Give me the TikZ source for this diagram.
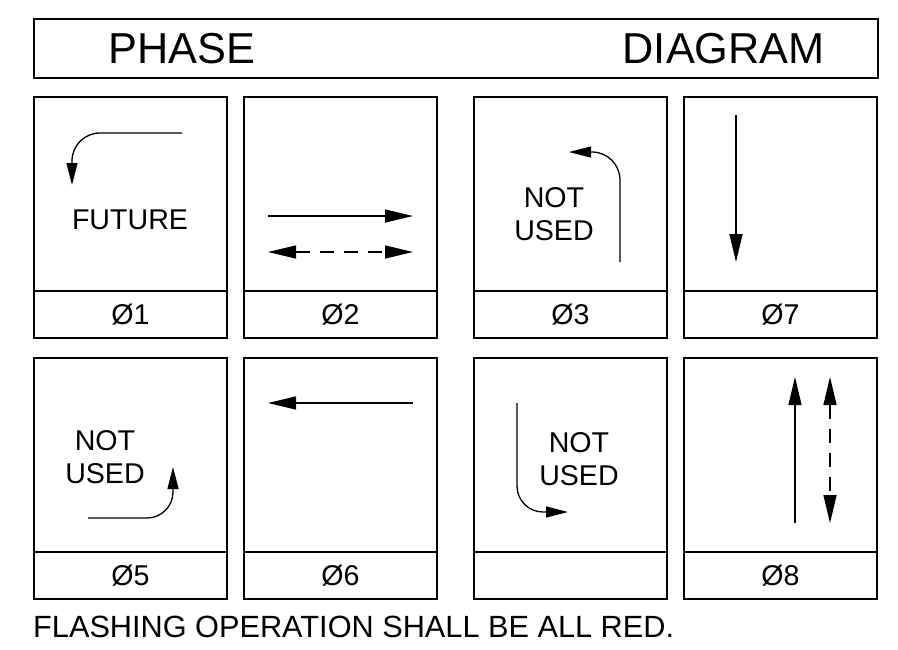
\documentclass[tikz,border=0pt]{standalone}
\usepackage{fontspec}
\setmainfont{Liberation Sans}
\usetikzlibrary{positioning, arrows.meta}

\begin{document}
\begin{tikzpicture}[x=1pt, y=-1pt,
  panel/.style={draw, line width=1.8pt, minimum width=193pt, minimum height=194pt, outer sep=0pt, inner sep=0pt},
  strip/.style={draw, line width=1.8pt, minimum width=193pt, minimum height=47pt, outer sep=0pt, inner sep=0pt, font=\fontsize{28.6}{29}\selectfont},
  note/.style={align=center, inner sep=0pt, font=\fontsize{28.6}{33}\selectfont},
  flow/.style={line width=1.3pt, -{Triangle[length=28pt, width=13pt]}},
  turn/.style={line width=1.3pt, -{Triangle[length=22pt, width=11pt]}},
  both/.style={line width=1.3pt, dash pattern=on 14pt off 10pt, {Triangle[length=28pt, width=13pt]}-{Triangle[length=28pt, width=13pt]}},
  ]
  \useasboundingbox (0,0) rectangle (898,649);

  % heading
  \node[draw, line width=1.8pt, minimum width=844pt, minimum height=59pt, outer sep=0pt] (title) at (456,48.5) {};
  \node[anchor=base west, inner sep=0pt, font=\fontsize{43.3}{44}\selectfont] (phase) at (108,63) {PHASE};
  \node[anchor=base east, inner sep=0pt, font=\fontsize{43.3}{44}\selectfont] (diagram) at (825,63) {DIAGRAM};

  % phase boxes
  \foreach \n/\x/\y/\l in {1/130.5/194/Ø1, 2/340.5/194/Ø2, 3/570.5/194/Ø3, 7/780.5/194/Ø7,
                           5/130.5/455/Ø5, 6/340.5/455/Ø6, 4/570.5/455/{}, 8/780.5/455/Ø8} {
    \node[panel] (ph\n) at (\x,\y) {};
    \node[strip, below=0pt of ph\n] (lb\n) {\l};
  }

  % phase 1
  \draw[turn, rounded corners=28pt] (182,133) -- (72,133) -- (72,185);
  \node[note] (future) at (130,219.5) {FUTURE};

  % phase 2
  \draw[flow] (268,216) -- (413,216);
  \draw[both] (268,252) -- (413,252);

  % phase 3
  \draw[turn, rounded corners=28pt] (620,262) -- (620,152) -- (569,152);
  \node[note, anchor=base] (unused3) at (554,240) {NOT\\USED};

  % phase 7
  \draw[flow] (736,115) -- (736,262);

  % phase 5
  \draw[turn, rounded corners=26pt] (88,518) -- (173,518) -- (173,467);
  \node[note, anchor=base] (unused5) at (105,483) {NOT\\USED};

  % phase 6
  \draw[flow] (413,403) -- (268,403);

  % phase 4
  \draw[turn, rounded corners=26pt] (517,403) -- (517,512) -- (568,512);
  \node[note, anchor=base] (unused4) at (579,485) {NOT\\USED};

  % phase 8
  \draw[flow] (795,523) -- (795,377);
  \draw[both] (830,377) -- (830,523);

  \node[anchor=base west, inner sep=0pt, font=\fontsize{30.7}{31}\selectfont] (flash) at (33,637) {FLASHING OPERATION SHALL BE ALL RED.};
\end{tikzpicture}
\end{document}
